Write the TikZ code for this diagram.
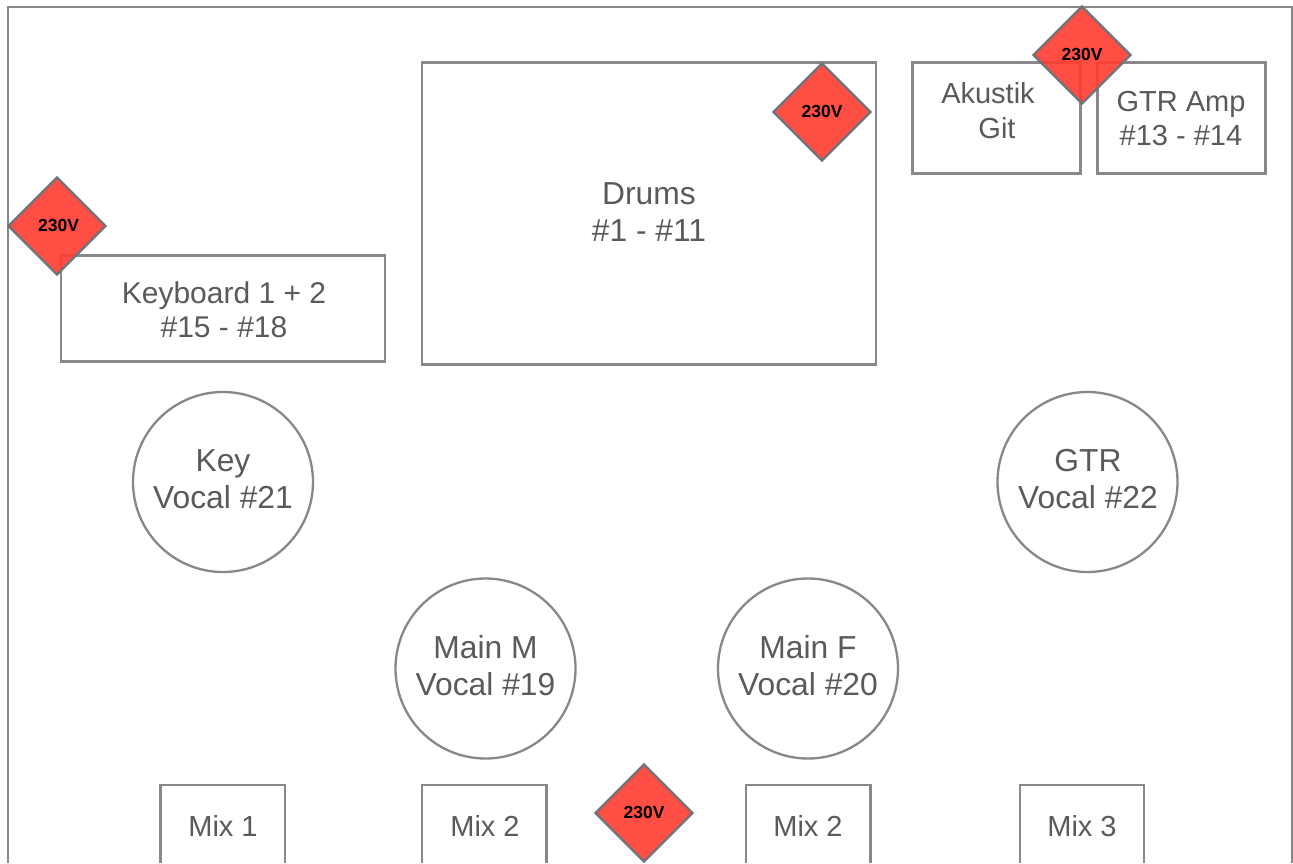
\documentclass[tikz,border=0pt]{standalone}
\usepackage{fontspec}
\setmainfont{Liberation Sans}
\usetikzlibrary{shapes.geometric}
\definecolor{edge}{HTML}{88888C}
\definecolor{vedge}{HTML}{6D7378}
\definecolor{txt}{HTML}{5A5A5A}
\definecolor{hot}{HTML}{FF3B2F}
\tikzset{x=1pt,y=-1pt,
 lbl/.style={text=txt,font=\fontsize{29}{34.5}\selectfont,align=center},
 biglbl/.style={text=txt,font=\fontsize{31.8}{37.5}\selectfont,align=center},
 boxn/.style={draw=edge,line width=2.3pt,fill=white,inner sep=0pt},
 ring/.style={circle,draw=edge,line width=2.3pt,minimum size=180pt,inner sep=0pt,biglbl},
 volt/.style={diamond,draw=vedge,line width=2.4pt,fill=hot,fill opacity=.9,draw opacity=1,text opacity=1,text=black,minimum width=98pt,minimum height=98pt,inner sep=0pt,font=\bfseries\fontsize{17.5}{17.5}\selectfont},
}
\begin{document}
\begin{tikzpicture}
\useasboundingbox (0,0) rectangle (1293,863);
\fill[white] (0,0) rectangle (1293,863);
\coordinate (fa) at (8,863); \coordinate (fb) at (8,7); \coordinate (fc) at (1292,7); \coordinate (fd) at (1292,863);
\draw[edge,line width=2.3pt] (fa) -- (fb) -- (fc) -- (fd);
\node[boxn,minimum width=454pt,minimum height=302pt] (drums) at (649,213.5) {};
\node[biglbl] (drumsT) at (649,212) {Drums\\\#1 - \#11};
\node[boxn,minimum width=324pt,minimum height=106pt] (keys) at (223,308.5) {};
\node[lbl,font=\fontsize{30}{34.5}\selectfont] (keysT) at (224,310) {Keyboard 1 + 2\\\#15 - \#18};
\node[boxn,minimum width=168pt,minimum height=111pt] (akustik) at (996.5,118) {};
\node[lbl] (akustikT) at (988,93) {Akustik};
\node[lbl] (gitT) at (997,128) {Git};
\node[boxn,minimum width=168pt,minimum height=111pt] (amp) at (1181.5,118) {};
\node[lbl] (ampT) at (1181,118.5) {GTR Amp\\\#13 - \#14};
\node[ring] (key) at (223,482) {};
\node[biglbl] (keyT) at (223,479) {Key\\Vocal \#21};
\node[ring] (gtr) at (1087.5,482) {};
\node[biglbl] (gtrT) at (1088,479) {GTR\\Vocal \#22};
\node[ring] (mm) at (485.5,668.5) {};
\node[biglbl] (mmT) at (485.5,665.5) {Main M\\Vocal \#19};
\node[ring] (mf) at (808,668.5) {};
\node[biglbl] (mfT) at (808,665.5) {Main F\\Vocal \#20};
\draw[edge,line width=2.3pt] (160.5,863) |- (285,785) -- (285,863);
\draw[edge,line width=2.3pt] (422,863) |- (546.5,785) -- (546.5,863);
\draw[edge,line width=2.3pt] (746,863) |- (870.5,785) -- (870.5,863);
\draw[edge,line width=2.3pt] (1020,863) |- (1144,785) -- (1144,863);
\node[lbl] (m1) at (223,826) {Mix 1};
\node[lbl] (m2) at (485,826) {Mix 2};
\node[lbl] (m3) at (808,826) {Mix 2};
\node[lbl] (m4) at (1082,826) {Mix 3};
\node[volt] (v1) at (822,112) {\hspace{0pt}\raisebox{1.5pt}{230V}};
\node[volt] (v2) at (1082,55) {\raisebox{1.5pt}{230V}};
\node[volt] (v3) at (57,226) {\hspace{3pt}\raisebox{1.5pt}{230V}};
\node[volt] (v4) at (644,813) {\raisebox{1.5pt}{230V}};
\end{tikzpicture}
\end{document}
